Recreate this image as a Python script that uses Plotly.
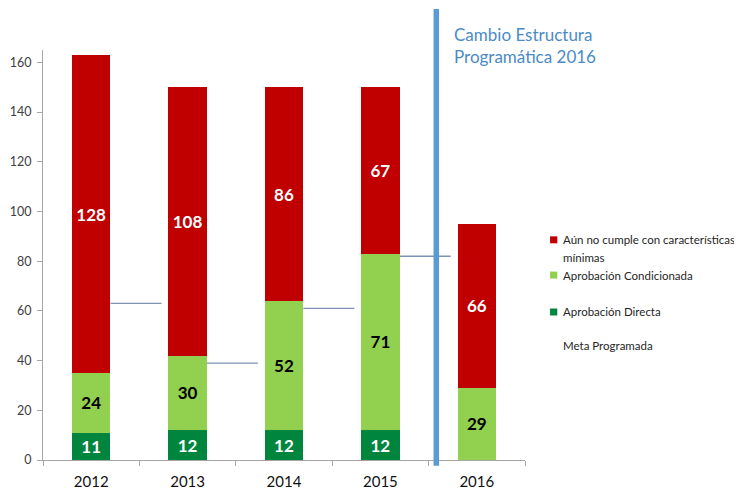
import plotly.graph_objects as go

years = ["2012", "2013", "2014", "2015", "2016"]
directa = [11, 12, 12, 12, 0]
condicionada = [24, 30, 52, 71, 29]
no_cumple = [128, 108, 86, 67, 66]
meta = [63, 39, 61, 82]
y_ticks = [0, 20, 40, 60, 80, 100, 120, 140, 160]

legend_items = [
    ("Aún no cumple con características", "mínimas", "#C00000"),
    ("Aprobación Condicionada", None, "#92D050"),
    ("Aprobación Directa", None, "#00853F"),
    ("Meta Programada", None, None),
]

C_RED = "#C00000"
C_LGREEN = "#92D050"
C_DGREEN = "#00853F"
C_BLUE = "#5B9BD5"
FONT = "Lato"

x = list(range(len(years)))

def labels(vals):
    return [str(v) if v else "" for v in vals]

fig = go.Figure()
lab_font = dict(family=FONT, size=17, weight="bold")

fig.add_bar(x=x, y=directa, name="Aprobación Directa", marker_color=C_DGREEN,
            text=labels(directa), textfont=dict(color="white", **lab_font))
fig.add_bar(x=x, y=condicionada, name="Aprobación Condicionada", marker_color=C_LGREEN,
            text=labels(condicionada), textfont=dict(color="black", **lab_font))
fig.add_bar(x=x, y=no_cumple, name="Aún no cumple con características mínimas",
            marker_color=C_RED,
            text=labels(no_cumple), textfont=dict(color="white", **lab_font))
fig.update_traces(selector=dict(type="bar"), width=0.4, textposition="inside",
                  insidetextanchor="middle", textangle=0, marker_line_width=0)

# Meta Programada: short horizontal segments to the right of each bar
mx, my = [], []
for i, v in enumerate(meta):
    mx += [i + 0.2, i + 0.73, None]
    my += [v, v, None]
fig.add_scatter(x=mx, y=my, mode="lines", name="Meta Programada",
                line=dict(color="#7F93B5", width=1.3), hoverinfo="skip")

fig.add_shape(type="line", xref="x", yref="paper", x0=3.58, x1=3.58, y0=-0.014, y1=1.1,
              line=dict(color=C_BLUE, width=5.5))

fig.add_annotation(xref="paper", yref="paper", x=0.848, y=1.012, xanchor="left", yanchor="middle",
                   text="Cambio Estructura<br>Programática 2016", showarrow=False, align="left",
                   font=dict(family=FONT, size=17, color="#4A8BC7"))

# manual legend (paper coordinates)
leg_y = [0.537, 0.451, 0.361, 0.280]
line_gap = 0.044
for (t1, t2, col), yy in zip(legend_items, leg_y):
    if col:
        fig.add_shape(type="rect", xref="paper", yref="paper", x0=1.052, x1=1.067,
                      y0=yy - 0.0085, y1=yy + 0.0085, fillcolor=col, line_width=0)
    fig.add_annotation(xref="paper", yref="paper", x=1.074, y=yy, xanchor="left",
                       yanchor="middle", text=t1, showarrow=False,
                       font=dict(family=FONT, size=11.5, color="#262626"))
    if t2:
        fig.add_annotation(xref="paper", yref="paper", x=1.074, y=yy - line_gap,
                           xanchor="left", yanchor="middle", text=t2, showarrow=False,
                           font=dict(family=FONT, size=11.5, color="#262626"))

fig.update_layout(
    width=742, height=491,
    barmode="stack",
    plot_bgcolor="white", paper_bgcolor="white",
    margin=dict(l=35, r=225, t=42, b=39),
    font=dict(family=FONT, color="#404040"),
    showlegend=False,
    xaxis=dict(range=[-0.5, 4.5], tickvals=x, ticktext=years, ticks="", automargin=False,
               showline=True, linecolor="#A6A6A6", linewidth=1, showgrid=False,
               zeroline=False, tickfont=dict(size=15, color="#111111"),
               ticklabelstandoff=8,
               minor=dict(tickvals=[i - 0.5 for i in range(len(years) + 1)],
                          ticks="outside", ticklen=5, tickcolor="#A6A6A6", showgrid=False)),
    yaxis=dict(range=[0, 165], tickvals=y_ticks, ticks="outside", ticklen=5, automargin=False,
               tickcolor="#A6A6A6", showline=True, linecolor="#A6A6A6", linewidth=1,
               showgrid=False, zeroline=False, tickfont=dict(size=12.5, color="#404040"),
               ticklabelstandoff=3),
)

fig.write_html("out.html")
